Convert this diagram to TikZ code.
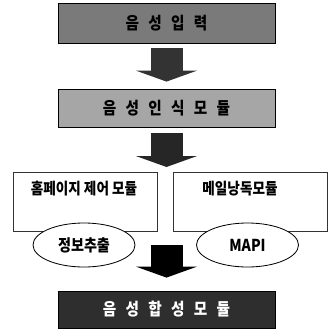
\documentclass[tikz,border=0pt]{standalone}
\usepackage{fontspec}
\setmainfont{Noto Sans CJK KR}[FakeStretch=0.86]
\usetikzlibrary{positioning}
\usetikzlibrary{shapes.geometric,arrows.meta}
\newcommand\wgap{\hspace{0.28cm}}
\tikzset{
 stagebox/.style={draw=black,line width=0.7pt,minimum width=6.51cm,inner sep=0pt,font=\fontsize{14.5}{16}\selectfont\bfseries},
 modbox/.style={draw=black!80,line width=0.5pt,minimum height=1.77cm,inner sep=0pt},
 modtitle/.style={font=\fontsize{13.5}{16}\selectfont\bfseries},
 infoell/.style={ellipse,draw=black,line width=0.7pt,fill=white,minimum width=3.06cm,minimum height=1.32cm,inner sep=0pt,font=\fontsize{14}{16}\selectfont\bfseries},
 blockarrow/.style={line width=0.96cm,-{Triangle[width=1.83cm,length=0.33cm]}}
}
\begin{document}
\begin{tikzpicture}[x=0.03cm,y=-0.03cm]
 \useasboundingbox[fill=white](0,0) rectangle (328,333);
 % stages
 \node[stagebox,fill=black!52,minimum height=1.2cm] (input) at (166.5,23) {음\wgap 성\wgap 입\wgap 력};
 \node[stagebox,fill=black!35,minimum height=1.14cm] (recog) at (166.5,108) {음\wgap 성\wgap 인\wgap 식\wgap 모\wgap 듈};
 \node[stagebox,fill=black!82,text=white,minimum height=1.11cm] (synth) at (166.5,309.5) {음\wgap 성\wgap 합\wgap 성\wgap 모\wgap 듈};
 % modules
 \node[modbox,minimum width=4.32cm] (home) at (85,201.5) {};
 \node[modbox,minimum width=4.62cm] (mail) at (250,201.5) {};
 \node[modtitle] (hometitle) at (84,189) {홈페이지 제어 모듈};
 \node[modtitle] (mailtitle) at (240,189) {메일낭독모듈};
 \node[infoell] (extract) at (84,245) {정보추출};
 \node[infoell] (mapi) at (247.5,245) {MAPI};
 \coordinate (split) at (166.5,172);
 \coordinate (join) at (166.5,245);
 % arrows
 \draw[blockarrow,black!80,shorten <=0.15cm,shorten >=0.21cm] (input.south) -- (recog.north);
 \draw[blockarrow,black!85,shorten <=0.18cm,shorten >=0.15cm] (recog.south) -- (split);
 \draw[blockarrow,black,shorten >=0.39cm] (join) -- (synth.north);
\end{tikzpicture}
\end{document}
